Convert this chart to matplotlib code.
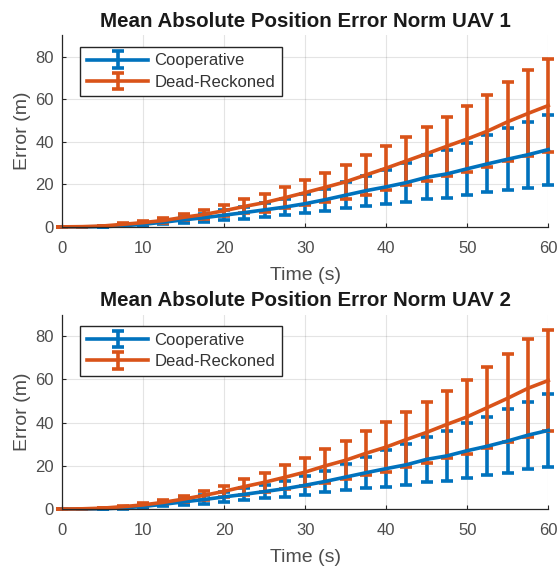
import matplotlib
matplotlib.use('Agg')
import matplotlib.pyplot as plt

plt.rcParams['font.family'] = ['Liberation Sans', 'DejaVu Sans']

# time stamps of the simulation samples
time_s = [0, 2.5, 5, 7.5, 10, 12.5, 15, 17.5, 20, 22.5, 25, 27.5, 30,
          32.5, 35, 37.5, 40, 42.5, 45, 47.5, 50, 52.5, 55, 57.5, 60]

# UAV 1
coop_mean_1 = [0, 0, 0.1, 0.5, 1.2, 2.2, 3.3, 4.3, 5.5, 6.7, 8.0, 9.3, 10.9,
               12.8, 14.9, 17.0, 18.8, 20.8, 23.3, 24.9, 27.3, 29.6, 31.8, 33.9, 36.3]
coop_std_1 = [0, 0, 0, 0.3, 0.6, 1.0, 1.5, 1.9, 2.4, 2.8, 3.3, 3.8, 4.4,
              5.2, 6.2, 7.0, 7.9, 9.0, 10.3, 11.2, 12.2, 13.4, 14.5, 15.5, 16.5]
dr_mean_1 = [0, 0.1, 0.4, 1.2, 2.0, 3.0, 4.5, 5.8, 7.6, 9.6, 11.4, 13.7, 16.1,
             18.6, 21.2, 24.4, 27.6, 31.0, 34.4, 37.9, 41.3, 45.0, 49.4, 53.3, 57.0]
dr_std_1 = [0, 0, 0.1, 0.4, 0.6, 1.0, 1.4, 1.9, 2.6, 3.3, 4.2, 5.0, 5.9,
            6.9, 8.1, 9.2, 10.2, 11.4, 12.7, 13.9, 15.4, 16.9, 18.6, 20.2, 22.0]

# UAV 2
coop_mean_2 = [0, 0, 0.1, 0.5, 1.2, 2.2, 3.3, 4.4, 5.6, 6.8, 8.1, 9.4, 11.0,
               12.8, 14.8, 16.8, 18.7, 20.5, 23.0, 24.6, 27.0, 29.1, 31.5, 34.2, 36.4]
coop_std_2 = [0, 0, 0, 0.3, 0.6, 1.0, 1.5, 1.9, 2.3, 2.8, 3.2, 3.7, 4.3,
              5.0, 6.1, 7.2, 8.4, 9.5, 10.4, 11.6, 12.8, 13.5, 14.6, 15.5, 16.8]
dr_mean_2 = [0, 0.1, 0.4, 1.1, 1.9, 3.1, 4.6, 6.3, 8.2, 10.4, 12.4, 14.7, 17.1,
             20.0, 22.6, 25.8, 28.7, 32.2, 35.5, 39.2, 42.7, 47.0, 51.3, 55.9, 59.5]
dr_std_2 = [0, 0, 0.1, 0.5, 0.7, 1.0, 1.5, 2.0, 2.5, 3.7, 4.4, 5.5, 6.5,
            7.9, 8.8, 10.2, 11.5, 12.7, 14.2, 15.5, 17.1, 18.9, 20.3, 22.6, 23.5]

uavs = [
    ('Mean Absolute Position Error Norm UAV 1', coop_mean_1, coop_std_1, dr_mean_1, dr_std_1),
    ('Mean Absolute Position Error Norm UAV 2', coop_mean_2, coop_std_2, dr_mean_2, dr_std_2),
]

BLUE = '#0072BD'
ORANGE = '#D95319'
GRAY = '#4d4d4d'


def draw_err(ax, y, err, color, label):
    cont = ax.errorbar(time_s, y, yerr=err, color=color, lw=2.6, elinewidth=2.6,
                       capsize=4, capthick=2.6, label=label)
    # keep the last bar (t = 60) whole at the right edge
    cont[0].set_clip_on(False)
    for art in cont[1] + cont[2]:
        art.set_clip_on(False)


fig = plt.figure(figsize=(5.6, 5.7), dpi=100)
boxes = [[0.111, 0.602, 0.868, 0.336], [0.111, 0.107, 0.868, 0.341]]

for box, (title, cm, cs, dm, ds) in zip(boxes, uavs):
    ax = fig.add_axes(box)
    draw_err(ax, cm, cs, BLUE, 'Cooperative')
    draw_err(ax, dm, ds, ORANGE, 'Dead-Reckoned')
    ax.set_xlim(0, 60)
    ax.set_ylim(0, 90)
    ax.set_xticks([0, 10, 20, 30, 40, 50, 60])
    ax.set_yticks([0, 20, 40, 60, 80])
    ax.grid(True, color='#262626', alpha=0.12, lw=0.8)
    ax.set_axisbelow(True)
    for s in ['top', 'right']:
        ax.spines[s].set_visible(False)
    for s in ['left', 'bottom']:
        ax.spines[s].set_color('#262626')
        ax.spines[s].set_linewidth(0.9)
    ax.tick_params(direction='in', length=3, colors='#262626',
                   labelcolor=GRAY, labelsize=12)
    ax.tick_params(axis='x', pad=10)
    ax.tick_params(axis='y', pad=6)
    ax.set_title(title, fontsize=14.8, fontweight='bold', pad=6, color='#1a1a1a')
    ax.set_xlabel('Time (s)', fontsize=14, color=GRAY, labelpad=8)
    ax.set_ylabel('Error (m)', fontsize=14, color=GRAY, labelpad=3)
    leg = ax.legend(loc='upper left', bbox_to_anchor=(0.037, 0.94), fontsize=12,
                    fancybox=False, framealpha=1, edgecolor='#262626',
                    borderpad=0.4, labelspacing=0.38, handlelength=3.7,
                    handletextpad=0.35, borderaxespad=0)
    leg.get_frame().set_linewidth(1.0)
    for t in leg.get_texts():
        t.set_color('#333333')

fig.savefig('out.png', dpi=100)
